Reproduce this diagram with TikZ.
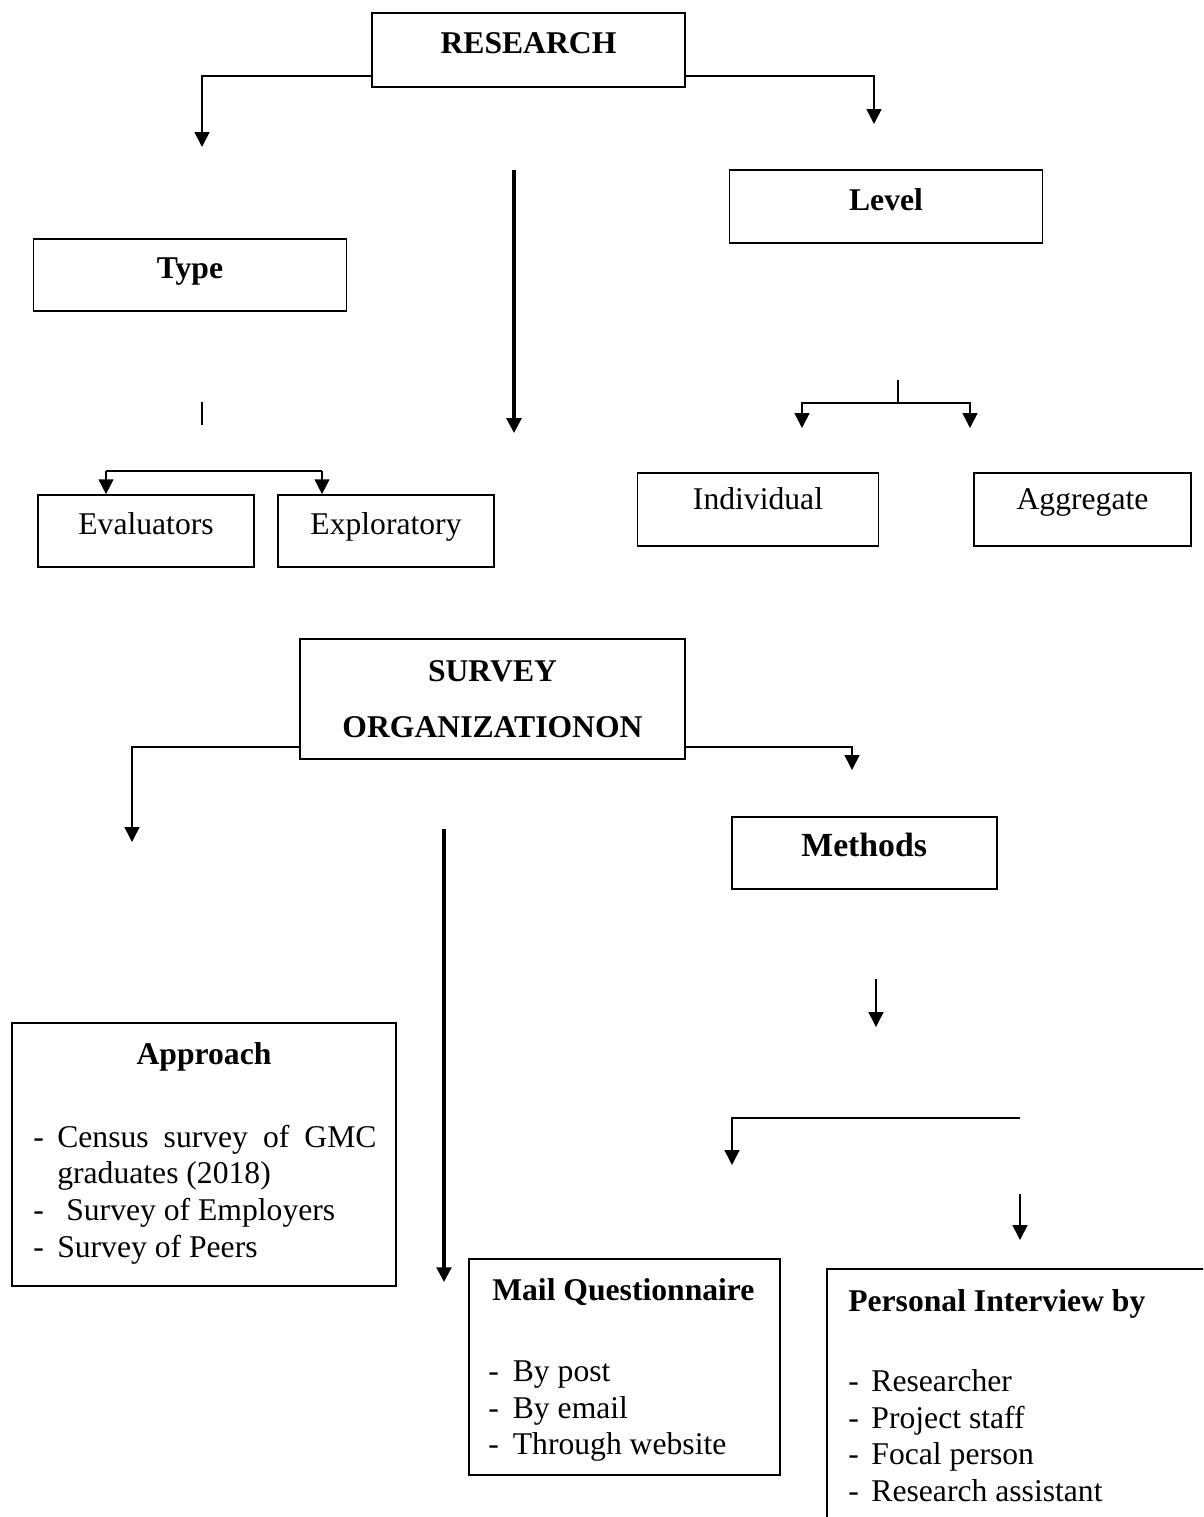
\documentclass[tikz,border=0pt]{standalone}
\usepackage{fontspec}
\setmainfont{Liberation Serif}
\usetikzlibrary{arrows.meta}

\newcommand\diagfont{\fontsize{22.5}{26.3}\selectfont}

\tikzset{
  box/.style 2 args={draw, line width=1.2pt, minimum width=#1*0.025cm,
    minimum height=#2*0.025cm, inner sep=0pt, text height=0.7em, text depth=0.2em},
  bold/.style={font=\diagfont\bfseries},
  txt/.style={inner sep=0pt},
  arr/.style={-{Triangle[length=10.5pt,width=10.5pt]}, line width=1.1pt},
  line/.style={line width=1.1pt},
}

\begin{document}
\begin{tikzpicture}[x=0.025cm, y=-0.025cm, font=\diagfont]
  \clip (0,0) rectangle (1203,1517);

  \node[box={313}{74}, bold] (research) at (528.5,50) {RESEARCH};
  \node[box={313}{72}, bold] (type) at (190,275) {Type};
  \node[box={313}{73}, bold] (level) at (886,206.5) {Level};
  \node[box={216}{72}] (eval) at (146,531) {Evaluators};
  \node[box={216}{72}] (explo) at (386,531) {Exploratory};
  \node[box={241}{73}, text depth=0.64em] (indiv) at (758,509.5) {Individual};
  \node[box={217}{73}, text depth=0.64em] (aggr) at (1082.5,509.5) {Aggregate};

  \coordinate (typeIn) at (202,147);
  \coordinate (levelIn) at (874,124);
  \draw[arr] (research.west |- 0,76) -| (typeIn);
  \draw[arr] (research.east |- 0,76) -| (levelIn);

  \coordinate (midA) at (514,170);
  \coordinate (midB) at (514,433);
  \draw[arr, line width=2.2pt] (midA) -- (midB);

  \coordinate (typeT1) at (202,402);
  \coordinate (typeT2) at (202,425);
  \draw[line] (typeT1) -- (typeT2);
  \coordinate (tbL) at (106,471);
  \coordinate (tbR) at (322,471);
  \draw[line] (tbL) -- (tbR);
  \draw[arr] (tbL) -- (tbL |- eval.north);
  \draw[arr] (tbR) -- (tbR |- explo.north);

  \coordinate (lvA) at (898,380);
  \coordinate (lvB) at (898,403);
  \coordinate (lvL) at (802,428);
  \coordinate (lvR) at (970,428);
  \draw[line] (lvA) -- (lvB);
  \draw[arr] (lvB) -| (lvL);
  \draw[arr] (lvB) -| (lvR);

  \node[box={385}{120}, bold, align=center, text height=, text depth=] (survey) at (492.5,699)
    {SURVEY\\[13.5pt]ORGANIZATIONON};
  \node[box={265}{72}, font=\fontsize{24}{28}\selectfont\bfseries] (methods) at (864.2,852.7) {Methods};

  \coordinate (apprIn) at (132,842);
  \coordinate (methIn) at (852,770);
  \draw[arr] (survey.west |- 0,747) -| (apprIn);
  \draw[arr] (survey.east |- 0,747) -| (methIn);

  \coordinate (midC) at (444,829);
  \coordinate (midD) at (444,1282);
  \draw[arr, line width=2.2pt] (midC) -- (midD);

  \coordinate (mA) at (876,979);
  \coordinate (mB) at (876,1027);
  \draw[arr] (mA) -- (mB);
  \coordinate (mbR) at (1020,1118);
  \coordinate (mailIn) at (732,1165);
  \draw[arr] (mbR) -| (mailIn);
  \coordinate (piA) at (1020,1194);
  \coordinate (piB) at (1020,1240);
  \draw[arr] (piA) -- (piB);

  \node[box={384}{263}, text height=, text depth=] (approach) at (204,1154.5) {};
  \node[txt, anchor=base, bold] (apprT) at (204,1064) {Approach};
  \node[txt, anchor=base west] (apprL) at (33,1147) {\begin{tabular}[t]{@{}l@{\hspace{9.6pt}}l@{}}
    -&\makebox[227pt][s]{Census survey of GMC}\\
     &graduates (2018)\\
    -&\hspace{6.4pt}Survey of Employers\\
    -&Survey of Peers
  \end{tabular}};

  \node[box={311}{216}, text height=, text depth=] (mail) at (624.5,1367) {};
  \node[txt, anchor=base west, bold] (mailT) at (492,1300) {Mail Questionnaire};
  \node[txt, anchor=base west] (mailL) at (488,1381) {\begin{tabular}[t]{@{}l@{\hspace{10pt}}l@{}}
    -&By post\\
    -&By email\\
    -&Through website
  \end{tabular}};

  \node[box={420}{320}, anchor=north west, text height=, text depth=] (personal) at (826,1268) {};
  \node[txt, anchor=base west, bold] (persT) at (848,1311) {Personal Interview by};
  \node[txt, anchor=base west] (persL) at (848,1391) {\begin{tabular}[t]{@{}l@{\hspace{9pt}}l@{}}
    -&Researcher\\
    -&Project staff\\
    -&Focal person\\
    -&Research assistant
  \end{tabular}};
\end{tikzpicture}
\end{document}
